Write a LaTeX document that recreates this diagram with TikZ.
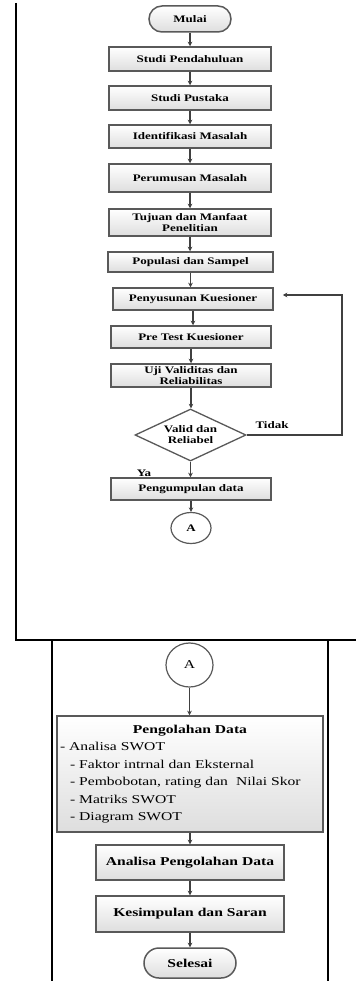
\documentclass[tikz,border=0pt]{standalone}
\usepackage{fontspec}
\setmainfont{Liberation Serif}[FakeStretch=1.3]
\usetikzlibrary{shapes.geometric,shapes.misc,arrows.meta}

\tikzset{
  box/.style={draw=black!65, line width=1.5pt, top color=white, bottom color=black!13,
    font=\bfseries\fontsize{10}{12}\selectfont, align=center, inner sep=1pt},
  bigbox/.style={box, font=\bfseries\fontsize{12}{14}\selectfont},
  term/.style={box, rounded rectangle},
  decision/.style={draw=black!65, line width=1.3pt, fill=white, diamond, aspect=2.2, inner sep=0pt,
    font=\bfseries\fontsize{10}{11}\selectfont, align=center},
  connector/.style={draw=black!65, line width=1.2pt, ellipse, fill=white, inner sep=0pt},
  flow/.style={draw=black!75, line width=1.3pt, -{Stealth[length=4.5pt,width=4.5pt]}},
  frame/.style={line width=1.6pt},
}

\begin{document}
\begin{tikzpicture}[x=1pt,y=-1pt]
  \useasboundingbox (0,0) rectangle (356,981);

  \draw[frame] (16,3) -- (16,640) -- (356,640);
  \draw[frame] (52,640) -- (52,981) (328,640) -- (328,981);

  \node[term, minimum width=84pt, minimum height=26pt] (mulai) at (190,19) {Mulai};
  \node[box, minimum width=162pt, minimum height=24pt] (pendahuluan) at (190,59) {Studi Pendahuluan};
  \node[box, minimum width=162pt, minimum height=24pt] (pustaka) at (190,98) {Studi Pustaka};
  \node[box, minimum width=162pt, minimum height=23pt] (identifikasi) at (190,136.5) {Identifikasi Masalah};
  \node[box, minimum width=162pt, minimum height=28pt] (perumusan) at (190,178) {Perumusan Masalah};
  \node[box, minimum width=162pt, minimum height=27pt, font=\bfseries\fontsize{10}{11}\selectfont] (tujuan) at (190,222.5) {Tujuan dan Manfaat\\Penelitian};
  \node[box, minimum width=165pt, minimum height=20pt] (populasi) at (190.5,262) {Populasi dan Sampel};
  \node[box, minimum width=160pt, minimum height=22pt] (penyusunan) at (193,299) {Penyusunan Kuesioner};
  \node[box, minimum width=160pt, minimum height=22pt] (pretest) at (191,337) {Pre Test Kuesioner};
  \node[box, minimum width=160pt, minimum height=23pt, font=\bfseries\fontsize{10}{11}\selectfont] (uji) at (191,375.5) {Uji Validitas dan\\Reliabilitas};
  \node[decision, minimum width=111pt, minimum height=52pt] (valid) at (190.5,435) {Valid dan\\Reliabel};
  \node[box, minimum width=160pt, minimum height=22pt] (pengumpulan) at (191,489) {Pengumpulan data};
  \node[connector, minimum width=40pt, minimum height=31pt, font=\bfseries\fontsize{10}{12}\selectfont] (a1) at (191,528) {A};

  \node[connector, minimum width=47pt, minimum height=44pt, font=\fontsize{12}{14}\selectfont] (a2) at (189.5,665) {A};
  \node[box, minimum width=266pt, minimum height=116pt, text width=260pt, align=left,
    inner xsep=0pt, font=\fontsize{12}{17.5}\selectfont] (pengolahan) at (190,774)
    {{\centering\bfseries Pengolahan Data\par}
     - Analisa SWOT\\
     \hspace*{10pt}- Faktor intrnal dan Eksternal\\
     \hspace*{10pt}- Pembobotan, rating dan\ \ Nilai Skor\\
     \hspace*{10pt}- Matriks SWOT\\
     \hspace*{10pt}- Diagram SWOT};
  \node[bigbox, minimum width=188pt, minimum height=35pt] (analisa) at (190,862.5) {Analisa Pengolahan Data};
  \node[bigbox, minimum width=188pt, minimum height=36pt] (kesimpulan) at (190,914) {Kesimpulan dan Saran};
  \node[term, minimum width=94pt, minimum height=30pt, font=\bfseries\fontsize{12}{14}\selectfont] (selesai) at (190,963) {Selesai};

  \foreach \a/\b in {mulai/pendahuluan, pendahuluan/pustaka, pustaka/identifikasi,
      identifikasi/perumusan, perumusan/tujuan, tujuan/populasi, populasi/penyusunan,
      penyusunan/pretest, pretest/uji, uji/valid, valid/pengumpulan, pengumpulan/a1,
      a2/pengolahan, pengolahan/analisa, analisa/kesimpulan, kesimpulan/selesai}
    \draw[flow] (\a.south) -- (\a.south |- \b.north);

  \coordinate (loop) at (342,435);
  \draw[flow, shorten >=9pt] (valid.east) -- (loop) |- ([yshift=4pt]penyusunan.east);

  \node[font=\bfseries\fontsize{10}{12}\selectfont] (tidak) at (272,425) {Tidak};
  \node[font=\bfseries\fontsize{10}{12}\selectfont] (ya) at (144,473) {Ya};
\end{tikzpicture}
\end{document}
